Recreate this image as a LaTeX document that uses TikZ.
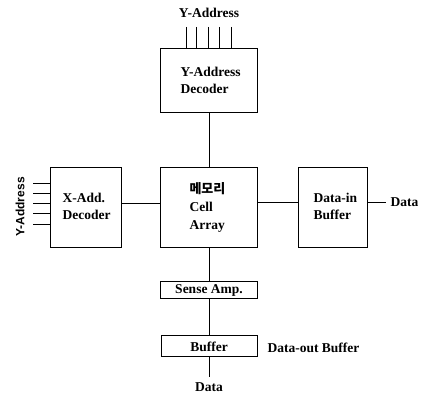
\documentclass[tikz,border=0pt]{standalone}
\usepackage{fontspec}
\setmainfont{Liberation Serif}
\newfontfamily\kfont{Noto Sans CJK KR}
\newfontfamily\sfont{Liberation Sans}
\begin{document}
\begin{tikzpicture}[x=1pt,y=-1pt,
  blk/.style={draw,line width=1pt,inner sep=0pt},
  wire/.style={line width=0.9pt},
  lbl/.style={font=\fontsize{13.5}{17}\selectfont\bfseries,align=left},
]
\useasboundingbox (0,0) rectangle (421,398);
% boxes
\node[blk,minimum width=97pt,minimum height=64pt] (ydec) at (209,81) {};
\node[lbl,anchor=west] at (177,80) {Y-Address\\Decoder};
\node[blk,minimum width=97pt,minimum height=80pt] (cell) at (209,207.5) {};
\node[lbl,anchor=west,font=\fontsize{13.5}{18}\selectfont\bfseries] at (186,207) {{\kfont\fontsize{13}{18}\selectfont 메모리}\\Cell\\Array};
\node[blk,minimum width=71pt,minimum height=80pt] (xdec) at (85.5,207.5) {};
\node[lbl,anchor=west] at (59,206) {X-Add.\\Decoder};
\node[blk,minimum width=69pt,minimum height=80pt] (din) at (332.5,207.5) {};
\node[lbl,anchor=west] at (310,206) {Data-in\\Buffer};
\node[blk,minimum width=97pt,minimum height=17pt] (sense) at (209,290.5) {};
\node[lbl] at (209,290.5) {Sense Amp.};
\node[blk,minimum width=96pt,minimum height=21pt] (buf) at (209,346.5) {};
\node[lbl] at (209,346.5) {Buffer};
% labels
\node[lbl] (ytop) at (209,13) {Y-Address};
\node[font=\sfont\fontsize{12}{14}\selectfont\bfseries,rotate=90] (yleft) at (20,207) {Y-Address};
\node[lbl,anchor=west] (dright) at (387,202) {Data};
\node[lbl] (dbot) at (209,387) {Data};
\node[lbl,anchor=west] (dob) at (264,348) {Data-out Buffer};
% wires
\foreach \x in {186,196,208,219,231} \draw[wire] (\x,27) -- (\x,49);
\foreach \y in {183,193,203,213,224} \draw[wire] (33,\y) -- (50,\y);
\draw[wire] (ydec.south) -- (cell.north);
\draw[wire] (xdec.east |- 0,203) -- (cell.west |- 0,203);
\draw[wire] (cell.east |- 0,202) -- (din.west |- 0,202);
\draw[wire] (din.east |- 0,202) -- (386,202);
\draw[wire] (cell.south) -- (sense.north);
\draw[wire] (sense.south) -- (buf.north);
\draw[wire] (buf.south) -- (209,377);
\end{tikzpicture}
\end{document}
